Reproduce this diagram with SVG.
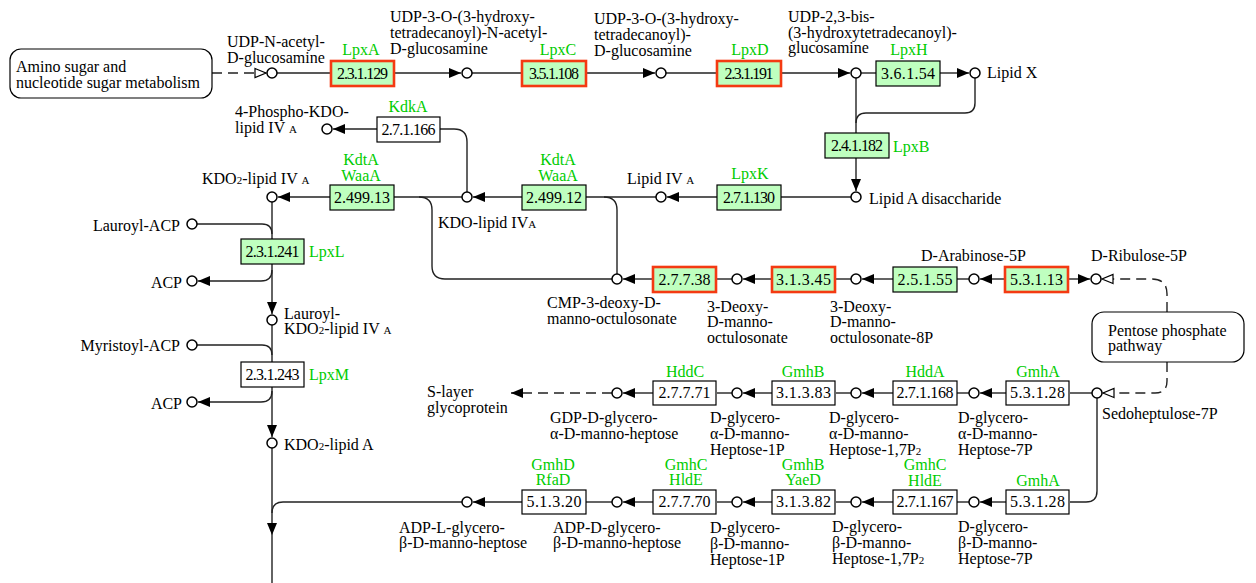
<svg xmlns="http://www.w3.org/2000/svg" width="1256" height="583" viewBox="0 0 1256 583">
<style>
text{font-family:"Liberation Serif","Times New Roman",serif;font-size:16px;fill:#000}
.ec{font-size:16px;text-anchor:middle}
.g{fill:#00cc00;text-anchor:middle}
.gl{fill:#00cc00}
.r{text-anchor:end}
.s{font-size:11px}
.bx{fill:#fff;stroke:#000;stroke-width:1.2}
.gb{fill:#bfffbf;stroke:#000;stroke-width:1.2}
.rb{fill:#bfffbf;stroke:#f43a12;stroke-width:2.6}
.map{fill:#fff;stroke:#000;stroke-width:1.2}
.c{fill:#fff;stroke:#000;stroke-width:1.5}
.ln path{fill:none;stroke:#222;stroke-width:1.4}
.ln .d{stroke-dasharray:10 6}
.ln .a{marker-end:url(#a)}
.ln .o{marker-end:url(#o)}
</style>
<defs>
<marker id="a" markerUnits="userSpaceOnUse" viewBox="0 0 12 10" markerWidth="12" markerHeight="10" refX="12" refY="5" orient="auto"><path d="M0,0L12,5L0,10z" fill="#000"/></marker>
<marker id="o" markerUnits="userSpaceOnUse" viewBox="0 0 13 11" markerWidth="13" markerHeight="11" refX="12" refY="5.5" orient="auto" overflow="visible"><path d="M1,1L12,5.5L1,10z" fill="#fff" stroke="#000" stroke-width="1.2"/></marker>
</defs>
<rect width="1256" height="583" fill="#fff"/>

<g id="connectors" class="ln">
<path class="d o" d="M212,73H266"/>
<path d="M277,73H331"/>
<path class="a" d="M394,73H461"/>
<path d="M472,73H522"/>
<path class="a" d="M586,73H655"/>
<path d="M666,73H717"/>
<path class="a" d="M781,73H850"/>
<path d="M861,73H876"/>
<path class="a" d="M940,73H969"/>
<path d="M856,78V133"/>
<path d="M975,78V103Q975,113 965,113H866Q856,113 856,123"/>
<path class="a" d="M856,158V191"/>
<path d="M851,197H781"/>
<path class="a" d="M717,197H667"/>
<path d="M656,197H586"/>
<path class="a" d="M522,197H473"/>
<path d="M462,197H394"/>
<path class="a" d="M330,197H278"/>
<path d="M617,274V210Q617,197 604,197"/>
<path d="M612,279H445Q432,279 432,266V210Q432,197 419,197"/>
<path d="M467,192V142Q467,129 454,129H440"/>
<path class="a" d="M377,129H333"/>
<path d="M272,202V239"/>
<path d="M197,224H262Q272,224 272,234"/>
<path class="a" d="M272,264V314"/>
<path class="a" d="M272,270Q272,281 261,281H198"/>
<path d="M272,325V362"/>
<path d="M197,345H262Q272,345 272,355"/>
<path class="a" d="M272,387V437"/>
<path class="a" d="M272,391Q272,402 261,402H198"/>
<path class="a" d="M272,448V535"/>
<path d="M272,535V583"/>
<path d="M462,502H283Q272,502 272,513"/>
<path class="d o" d="M1167,312V294Q1167,279 1152,279H1102"/>
<path class="d o" d="M1167,362V381Q1167,393 1155,393H1103"/>
<path class="a" d="M1069,279H1090"/>
<path class="a" d="M1005,279H980"/>
<path d="M969,279H957"/>
<path class="a" d="M893,279H862"/>
<path d="M851,279H835"/>
<path class="a" d="M772,279H743"/>
<path d="M732,279H716"/>
<path class="a" d="M653,279H623"/>
<path d="M1092,393H1070"/>
<path class="a" d="M1006,393H980"/>
<path d="M969,393H957"/>
<path class="a" d="M893,393H862"/>
<path d="M851,393H836"/>
<path class="a" d="M772,393H743"/>
<path d="M732,393H717"/>
<path class="a" d="M653,393H623"/>
<path class="d a" d="M612,393H511"/>
<path d="M1097,398V491Q1097,502 1086,502H1070"/>
<path class="a" d="M1006,502H980"/>
<path d="M969,502H957"/>
<path class="a" d="M893,502H862"/>
<path d="M851,502H836"/>
<path class="a" d="M772,502H743"/>
<path d="M732,502H717"/>
<path class="a" d="M653,502H623"/>
<path d="M612,502H586"/>
<path class="a" d="M522,502H473"/>
</g>

<g id="map-amino-sugar"><rect class="map" x="10" y="49" width="202" height="49" rx="11"/><text x="16" y="72">Amino sugar and</text><text x="16" y="88">nucleotide sugar metabolism</text></g>
<g id="map-pentose"><rect class="map" x="1092" y="312" width="152" height="50" rx="12"/><text x="1108" y="336">Pentose phosphate</text><text x="1108" y="351">pathway</text></g>

<g id="e-2.3.1.129"><rect class="rb" x="331" y="61" width="63" height="25"/><text class="ec" x="362.5" y="79" textLength="51" lengthAdjust="spacing">2.3.1.129</text><text class="g" x="361" y="55">LpxA</text></g>
<g id="e-3.5.1.108"><rect class="rb" x="522" y="61" width="64" height="25"/><text class="ec" x="554" y="79" textLength="50" lengthAdjust="spacing">3.5.1.108</text><text class="g" x="558" y="55">LpxC</text></g>
<g id="e-2.3.1.191"><rect class="rb" x="717" y="61" width="64" height="25"/><text class="ec" x="749" y="79" textLength="49" lengthAdjust="spacing">2.3.1.191</text><text class="g" x="750" y="55">LpxD</text></g>
<g id="e-3.6.1.54"><rect class="gb" x="876" y="61" width="64" height="25"/><text class="ec" x="908" y="79" textLength="54" lengthAdjust="spacing">3.6.1.54</text><text class="g" x="909" y="55">LpxH</text></g>
<g id="e-2.4.1.182"><rect class="gb" x="825" y="133" width="64" height="25"/><text class="ec" x="857" y="151" textLength="52" lengthAdjust="spacing">2.4.1.182</text><text class="gl" x="893" y="152">LpxB</text></g>
<g id="e-2.7.1.166"><rect class="bx" x="377" y="117" width="63" height="25"/><text class="ec" x="408.5" y="135" textLength="54" lengthAdjust="spacing">2.7.1.166</text><text class="g" x="408" y="112">KdkA</text></g>
<g id="e-2.499.13"><rect class="gb" x="330" y="185" width="64" height="25"/><text class="ec" x="362" y="203" textLength="56" lengthAdjust="spacing">2.499.13</text><text class="g" x="361" y="165">KdtA</text><text class="g" x="361" y="181">WaaA</text></g>
<g id="e-2.499.12"><rect class="gb" x="522" y="185" width="64" height="25"/><text class="ec" x="554" y="203" textLength="56" lengthAdjust="spacing">2.499.12</text><text class="g" x="558" y="165">KdtA</text><text class="g" x="558" y="181">WaaA</text></g>
<g id="e-2.7.1.130"><rect class="gb" x="717" y="185" width="64" height="25"/><text class="ec" x="749" y="203" textLength="52" lengthAdjust="spacing">2.7.1.130</text><text class="g" x="750" y="179">LpxK</text></g>
<g id="e-2.3.1.241"><rect class="gb" x="241" y="239" width="63" height="25"/><text class="ec" x="272.5" y="257" textLength="54" lengthAdjust="spacing">2.3.1.241</text><text class="gl" x="309" y="257">LpxL</text></g>
<g id="e-2.3.1.243"><rect class="bx" x="241" y="362" width="63" height="25"/><text class="ec" x="272.5" y="380" textLength="54" lengthAdjust="spacing">2.3.1.243</text><text class="gl" x="309" y="380">LpxM</text></g>
<g id="e-2.7.7.38"><rect class="rb" x="653" y="267" width="63" height="25"/><text class="ec" x="684.5" y="285" textLength="52" lengthAdjust="spacing">2.7.7.38</text></g>
<g id="e-3.1.3.45"><rect class="rb" x="772" y="267" width="63" height="25"/><text class="ec" x="803.5" y="285" textLength="55" lengthAdjust="spacing">3.1.3.45</text></g>
<g id="e-2.5.1.55"><rect class="gb" x="893" y="267" width="64" height="25"/><text class="ec" x="925" y="285" textLength="55" lengthAdjust="spacing">2.5.1.55</text></g>
<g id="e-5.3.1.13"><rect class="rb" x="1005" y="267" width="63" height="25"/><text class="ec" x="1036.5" y="285" textLength="53" lengthAdjust="spacing">5.3.1.13</text></g>
<g id="e-2.7.7.71"><rect class="bx" x="653" y="381" width="63" height="24"/><text class="ec" x="684.5" y="398" textLength="52" lengthAdjust="spacing">2.7.7.71</text><text class="g" x="685" y="377">HddC</text></g>
<g id="e-3.1.3.83"><rect class="bx" x="772" y="381" width="63" height="24"/><text class="ec" x="803.5" y="398" textLength="55" lengthAdjust="spacing">3.1.3.83</text><text class="g" x="803" y="377">GmhB</text></g>
<g id="e-2.7.1.168"><rect class="bx" x="893" y="381" width="64" height="24"/><text class="ec" x="925" y="398" textLength="57" lengthAdjust="spacing">2.7.1.168</text><text class="g" x="925" y="377">HddA</text></g>
<g id="e-5.3.1.28a"><rect class="bx" x="1006" y="381" width="63" height="24"/><text class="ec" x="1037.5" y="398" textLength="55" lengthAdjust="spacing">5.3.1.28</text><text class="g" x="1038" y="377">GmhA</text></g>
<g id="e-5.1.3.20"><rect class="bx" x="522" y="490" width="64" height="24"/><text class="ec" x="554" y="507" textLength="55" lengthAdjust="spacing">5.1.3.20</text><text class="g" x="553" y="470">GmhD</text><text class="g" x="553" y="485">RfaD</text></g>
<g id="e-2.7.7.70"><rect class="bx" x="653" y="490" width="63" height="24"/><text class="ec" x="684.5" y="507" textLength="52" lengthAdjust="spacing">2.7.7.70</text><text class="g" x="686" y="470">GmhC</text><text class="g" x="686" y="485">HldE</text></g>
<g id="e-3.1.3.82"><rect class="bx" x="772" y="490" width="63" height="24"/><text class="ec" x="803.5" y="507" textLength="55" lengthAdjust="spacing">3.1.3.82</text><text class="g" x="803" y="470">GmhB</text><text class="g" x="803" y="485">YaeD</text></g>
<g id="e-2.7.1.167"><rect class="bx" x="893" y="490" width="64" height="24"/><text class="ec" x="925" y="507" textLength="57" lengthAdjust="spacing">2.7.1.167</text><text class="g" x="925" y="470">GmhC</text><text class="g" x="925" y="486">HldE</text></g>
<g id="e-5.3.1.28b"><rect class="bx" x="1006" y="490" width="63" height="24"/><text class="ec" x="1037.5" y="507" textLength="55" lengthAdjust="spacing">5.3.1.28</text><text class="g" x="1038" y="486">GmhA</text></g>

<g id="c-udp-glcnac"><circle class="c" cx="272" cy="73" r="5"/><text x="227" y="47">UDP-N-acetyl-</text><text x="227" y="63">D-glucosamine</text></g>
<g id="c-udp-3o-glcnac"><circle class="c" cx="467" cy="73" r="5"/><text x="390" y="22">UDP-3-O-(3-hydroxy-</text><text x="390" y="38">tetradecanoyl)-N-acetyl-</text><text x="390" y="54">D-glucosamine</text></g>
<g id="c-udp-3o-glcn"><circle class="c" cx="661" cy="73" r="5"/><text x="594" y="24">UDP-3-O-(3-hydroxy-</text><text x="594" y="40">tetradecanoyl)-</text><text x="594" y="56">D-glucosamine</text></g>
<g id="c-udp-23-bis"><circle class="c" cx="856" cy="73" r="5"/><text x="788" y="22">UDP-2,3-bis-</text><text x="788" y="38">(3-hydroxytetradecanoyl)-</text><text x="788" y="53">glucosamine</text></g>
<g id="c-lipid-x"><circle class="c" cx="975" cy="73" r="5"/><text x="987" y="78">Lipid X</text></g>
<g id="c-lipid-a-disacc"><circle class="c" cx="856" cy="197" r="5"/><text x="869" y="204">Lipid A disaccharide</text></g>
<g id="c-lipid-iva"><circle class="c" cx="661" cy="197" r="5"/><text x="627" y="184">Lipid IV <tspan class="s">A</tspan></text></g>
<g id="c-kdo-lipid-iva"><circle class="c" cx="467" cy="197" r="5"/><text x="438" y="228">KDO-lipid IV<tspan class="s">A</tspan></text></g>
<g id="c-4-phospho-kdo"><circle class="c" cx="327" cy="129" r="5"/><text x="235" y="117">4-Phospho-KDO-</text><text x="235" y="133">lipid IV <tspan class="s">A</tspan></text></g>
<g id="c-kdo2-lipid-iva"><circle class="c" cx="272" cy="197" r="5"/><text x="202" y="184">KDO<tspan class="s">2</tspan>-lipid IV <tspan class="s">A</tspan></text></g>
<g id="c-lauroyl-acp"><circle class="c" cx="192" cy="224" r="5"/><text class="r" x="180" y="231">Lauroyl-ACP</text></g>
<g id="c-acp1"><circle class="c" cx="192" cy="281" r="5"/><text class="r" x="182" y="288">ACP</text></g>
<g id="c-lauroyl-kdo2"><circle class="c" cx="272" cy="320" r="5"/><text x="284" y="319">Lauroyl-</text><text x="284" y="334">KDO<tspan class="s">2</tspan>-lipid IV <tspan class="s">A</tspan></text></g>
<g id="c-myristoyl-acp"><circle class="c" cx="192" cy="345" r="5"/><text class="r" x="180" y="351">Myristoyl-ACP</text></g>
<g id="c-acp2"><circle class="c" cx="192" cy="402" r="5"/><text class="r" x="182" y="409">ACP</text></g>
<g id="c-kdo2-lipid-a"><circle class="c" cx="272" cy="443" r="5"/><text x="284" y="450">KDO<tspan class="s">2</tspan>-lipid A</text></g>
<g id="c-cmp-kdo"><circle class="c" cx="617" cy="279" r="5"/><text x="547" y="308">CMP-3-deoxy-D-</text><text x="547" y="324">manno-octulosonate</text></g>
<g id="c-kdo"><circle class="c" cx="737" cy="279" r="5"/><text x="707" y="312">3-Deoxy-</text><text x="707" y="327">D-manno-</text><text x="707" y="343">octulosonate</text></g>
<g id="c-kdo-8p"><circle class="c" cx="856" cy="279" r="5"/><text x="830" y="312">3-Deoxy-</text><text x="830" y="327">D-manno-</text><text x="830" y="343">octulosonate-8P</text></g>
<g id="c-ara5p"><circle class="c" cx="974" cy="279" r="5"/><text x="921" y="261">D-Arabinose-5P</text></g>
<g id="c-ribu5p"><circle class="c" cx="1096" cy="279" r="5"/><text x="1091" y="261">D-Ribulose-5P</text></g>
<g id="c-sedo7p"><circle class="c" cx="1097" cy="393" r="5"/><text x="1102" y="419">Sedoheptulose-7P</text></g>
<g id="c-a-hep7p"><circle class="c" cx="974" cy="393" r="5"/><text x="958" y="423">D-glycero-</text><text x="958" y="439">α-D-manno-</text><text x="958" y="455">Heptose-7P</text></g>
<g id="c-a-hep17p2"><circle class="c" cx="856" cy="393" r="5"/><text x="829" y="423">D-glycero-</text><text x="829" y="439">α-D-manno-</text><text x="829" y="455">Heptose-1,7P<tspan class="s">2</tspan></text></g>
<g id="c-a-hep1p"><circle class="c" cx="737" cy="393" r="5"/><text x="710" y="423">D-glycero-</text><text x="710" y="439">α-D-manno-</text><text x="710" y="455">Heptose-1P</text></g>
<g id="c-gdp-hep"><circle class="c" cx="617" cy="393" r="5"/><text x="550" y="423">GDP-D-glycero-</text><text x="550" y="439">α-D-manno-heptose</text></g>
<g id="c-s-layer"><text x="427" y="397">S-layer</text><text x="427" y="413">glycoprotein</text></g>
<g id="c-b-hep7p"><circle class="c" cx="974" cy="502" r="5"/><text x="958" y="532">D-glycero-</text><text x="958" y="548">β-D-manno-</text><text x="958" y="564">Heptose-7P</text></g>
<g id="c-b-hep17p2"><circle class="c" cx="856" cy="502" r="5"/><text x="832" y="532">D-glycero-</text><text x="832" y="548">β-D-manno-</text><text x="832" y="564">Heptose-1,7P<tspan class="s">2</tspan></text></g>
<g id="c-b-hep1p"><circle class="c" cx="737" cy="502" r="5"/><text x="710" y="533">D-glycero-</text><text x="710" y="549">β-D-manno-</text><text x="710" y="565">Heptose-1P</text></g>
<g id="c-adp-d-hep"><circle class="c" cx="617" cy="502" r="5"/><text x="553" y="533">ADP-D-glycero-</text><text x="553" y="548">β-D-manno-heptose</text></g>
<g id="c-adp-l-hep"><circle class="c" cx="467" cy="502" r="5"/><text x="399" y="533">ADP-L-glycero-</text><text x="399" y="548">β-D-manno-heptose</text></g>
</svg>
